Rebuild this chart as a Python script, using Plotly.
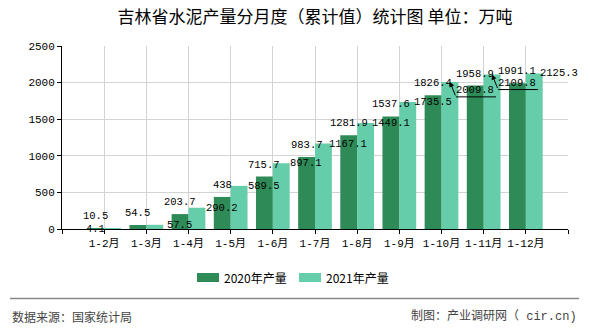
import plotly.graph_objects as go

categories = ["1-2月", "1-3月", "1-4月", "1-5月", "1-6月", "1-7月",
              "1-8月", "1-9月", "1-10月", "1-11月", "1-12月"]
values_2020 = [10.5, 54.5, 203.7, 438, 715.7, 983.7, 1281.9, 1537.6, 1826.4, 1958.9, 1991.1]
values_2021 = [4.1, 57.5, 290.2, 589.5, 897.1, 1167.1, 1449.1, 1735.5, 2009.8, 2109.8, 2125.3]
series_names = ["2020年产量", "2021年产量"]
y_ticks = [0, 500, 1000, 1500, 2000, 2500]

C_DARK = "#2E8B57"
C_LIGHT = "#66CDAA"
NUM_FONT = "Liberation Mono, Noto Sans CJK SC, monospace"
CJK_FONT = "Noto Sans CJK SC, sans-serif"

W, H = 590, 330
L, R, T, B = 62, 568, 46, 229

def px(x):
    return (x - L) / (R - L)

def py(y):
    return (B - y) / (B - T)

idx = list(range(len(categories)))

fig = go.Figure()
fig.add_trace(go.Bar(x=idx, y=values_2020, name=series_names[0],
                     marker=dict(color=C_DARK, line=dict(width=0)),
                     offsetgroup="a", showlegend=False, hoverinfo="skip"))
fig.add_trace(go.Bar(x=idx, y=values_2021, name=series_names[1],
                     marker=dict(color=C_LIGHT, line=dict(width=0)),
                     offsetgroup="b", showlegend=False, hoverinfo="skip"))

annotations = []
shapes = []
lab_font = dict(family=NUM_FONT, size=10.5, color="#000")

for i, v in zip(idx, values_2020):
    annotations.append(dict(x=i - 0.2, y=v, xref="x", yref="y", text=str(v),
                            showarrow=False, yshift=12, font=lab_font))

for i, v in zip(idx, values_2021):
    xc = i + 0.2
    if i == 0:
        annotations.append(dict(x=xc, y=v, xref="x", yref="y", text=str(v),
                                showarrow=False, xshift=-17, font=lab_font))
    elif i in (8, 9):
        annotations.append(dict(x=xc, y=v, xref="x", yref="y", text="",
                                showarrow=True, ax=6, ay=15, arrowhead=2,
                                arrowsize=1, arrowwidth=1, arrowcolor="#000",
                                standoff=0))
        shapes.append(dict(type="line", xref="x", yref="y",
                           xsizemode="pixel", xanchor=xc, x0=6, x1=46,
                           ysizemode="pixel", yanchor=v, y0=-15, y1=-15,
                           line=dict(color="#000", width=1)))
        annotations.append(dict(x=xc, y=v, xref="x", yref="y", text=str(v),
                                showarrow=False, xshift=25, yshift=-8, font=lab_font))
    else:
        annotations.append(dict(x=xc, y=v, xref="x", yref="y", text=str(v),
                                showarrow=False, xshift=25, font=lab_font))

# custom legend
leg = [(197, C_DARK, series_names[0]), (299, C_LIGHT, series_names[1])]
for x0, col, name in leg:
    shapes.append(dict(type="rect", xref="paper", yref="paper",
                       x0=px(x0), x1=px(x0 + 22), y0=py(282), y1=py(273),
                       fillcolor=col, line=dict(width=0)))
    annotations.append(dict(x=px(x0 + 25), y=py(277.5), xref="paper", yref="paper",
                            xanchor="left", yanchor="middle", showarrow=False,
                            text=name, font=dict(family=CJK_FONT, size=12, color="#000")))

# footer separator and texts
shapes.append(dict(type="line", xref="paper", yref="paper",
                   x0=px(10), x1=px(579), y0=py(298.5), y1=py(298.5),
                   line=dict(color="#888", width=1.5)))
annotations.append(dict(x=px(10), y=py(316), xref="paper", yref="paper",
                        xanchor="left", yanchor="middle", showarrow=False,
                        text="数据来源：国家统计局",
                        font=dict(family=CJK_FONT, size=12, color="#444")))
annotations.append(dict(x=px(579), y=py(316), xref="paper", yref="paper",
                        xanchor="right", yanchor="middle", showarrow=False,
                        text="制图：产业调研网（ cir.cn)",
                        font=dict(family=NUM_FONT, size=12, color="#444")))

xticks = [-1] + idx + [len(idx)]
xtext = [""] + categories + [""]

fig.update_layout(
    width=W, height=H,
    margin=dict(l=L, r=W - R, t=T, b=H - B, pad=0),
    paper_bgcolor="#fff", plot_bgcolor="#fff",
    barmode="group", bargap=0.2, bargroupgap=0,
    title=dict(text="吉林省水泥产量分月度（累计值）统计图 单位：万吨",
               x=0.5, xanchor="center", xref="paper",
               y=1 - 17 / H, yanchor="middle", yref="container",
               font=dict(family=CJK_FONT, size=17, color="#000")),
    xaxis=dict(range=[-1, len(idx)], tickmode="array", tickvals=xticks, ticktext=xtext,
               showgrid=True, gridcolor="#d3d3d3", gridwidth=1,
               showline=True, linecolor="#000", linewidth=1,
               ticks="outside", ticklen=4, tickcolor="#000",
               tickfont=dict(family=NUM_FONT, size=11, color="#000"),
               zeroline=False, fixedrange=True),
    yaxis=dict(range=[0, 2500], tickmode="array", tickvals=y_ticks,
               showgrid=True, gridcolor="#d3d3d3", gridwidth=1,
               showline=True, linecolor="#000", linewidth=1,
               ticks="outside", ticklen=4, tickcolor="#000",
               tickfont=dict(family=NUM_FONT, size=11, color="#000"),
               zeroline=False, fixedrange=True),
    annotations=annotations,
    shapes=shapes,
    showlegend=False,
)

fig.write_html("out.html", config={"displayModeBar": False})
